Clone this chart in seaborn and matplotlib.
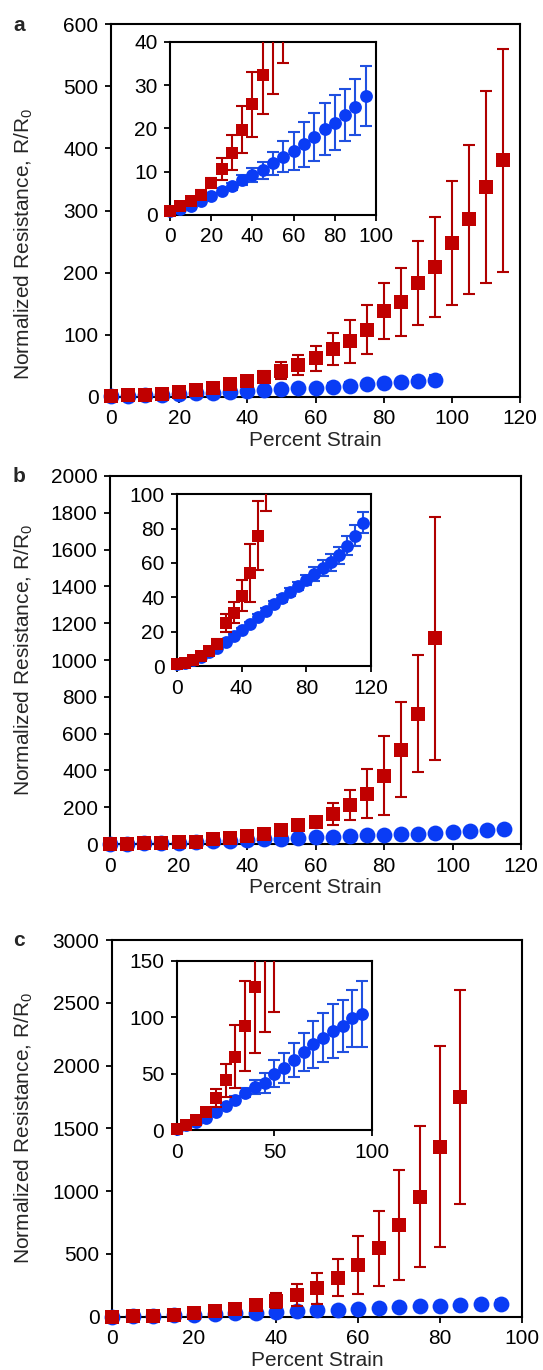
import matplotlib
matplotlib.use('Agg')
import pandas as pd
import matplotlib.pyplot as plt
import seaborn as sns
from matplotlib.patches import Rectangle

sns.set_style('ticks')
plt.rcParams['font.family'] = ['Liberation Sans', 'DejaVu Sans']
plt.rcParams['mathtext.fontset'] = 'custom'
plt.rcParams['mathtext.rm'] = 'Liberation Sans'
plt.rcParams['font.size'] = 15

RED = '#C00000'
BLUE = '#0A3CF5'
BLUE_ERR = '#2050E0'
FS = 15

# ---- panel a ----
strain_red_a = [0, 5, 10, 15, 20, 25, 30, 35, 40, 45, 50, 55, 60, 65, 70, 75, 80, 85, 90, 95, 100, 105, 110, 115]
red_a = [1, 2, 3.2, 4.7, 7.4, 10.6, 14.4, 19.7, 25.6, 32.2, 42, 51, 62, 77, 89, 108, 138, 153, 183, 209, 248, 286, 338, 381]
red_a_err = [0.3, 0.5, 0.7, 1.0, 1.2, 2.5, 4.0, 5.5, 7.5, 9, 14, 16, 20, 26, 34, 39, 45, 55, 68, 81, 100, 120, 155, 180]
strain_blue_a = [0, 5, 10, 15, 20, 25, 30, 35, 40, 45, 50, 55, 60, 65, 70, 75, 80, 85, 90, 95]
blue_a = [1, 1.3, 2.1, 3.2, 4.5, 5.6, 6.6, 8.1, 9.3, 10.3, 11.9, 13.5, 14.8, 16.3, 18.0, 19.8, 21.3, 23.1, 24.9, 27.5]
blue_a_err = [0.1, 0.2, 0.3, 0.4, 0.5, 0.6, 0.8, 1.1, 1.6, 2.0, 2.7, 3.6, 4.3, 5.2, 5.6, 6.0, 6.3, 6.0, 6.4, 7.0]

# ---- panel b ----
strain_red_b = [0, 5, 10, 15, 20, 25, 30, 35, 40, 45, 50, 55, 60, 65, 70, 75, 80, 85, 90, 95]
red_b = [1, 2, 3.5, 6, 9, 13, 25, 31, 41, 54, 76, 104, 122, 163, 213, 273, 371, 513, 709, 1118]
red_b_err = [0.5, 0.5, 1, 1.5, 2, 3, 5, 6, 9, 17, 20, 14, 15, 60, 80, 133, 216, 260, 320, 660]
strain_blue_b = [0, 5, 10, 15, 20, 25, 30, 35, 40, 45, 50, 55, 60, 65, 70, 75, 80, 85, 90, 95, 100, 105, 110, 115]
blue_b = [1, 2, 3.5, 5.5, 8, 10.5, 14, 17.5, 21, 24.5, 28.5, 32, 36, 39.5, 43, 46.5, 50, 53.5, 57, 60.5, 64.5, 70, 76, 83.5]
blue_b_err = [0.2, 0.3, 0.4, 0.5, 0.6, 0.8, 1, 1, 1.2, 1.3, 1.5, 1.6, 1.8, 2, 2.2, 2.5, 3, 4, 4.5, 5, 5, 5.5, 6, 6]

# ---- panel c ----
strain_red_c = [0, 5, 10, 15, 20, 25, 30, 35, 40, 45, 50, 55, 60, 65, 70, 75, 80, 85]
red_c = [1, 4, 9, 16, 28, 44, 65, 92, 127, 172, 225, 311, 412, 545, 731, 957, 1354, 1750]
red_c_err = [0.3, 1, 2, 3, 8, 15, 28, 40, 59, 85, 120, 150, 230, 300, 440, 560, 800, 850]
strain_blue_c = [0, 5, 10, 15, 20, 25, 30, 35, 40, 45, 50, 55, 60, 65, 70, 75, 80, 85, 90, 95]
blue_c = [1, 4, 7, 11, 16, 21, 27, 33, 38, 42, 50, 55, 62, 69, 76, 82, 88, 92, 99, 103]
blue_c_err = [0.2, 0.4, 0.6, 1, 1.5, 2, 3, 4, 6, 9, 12, 13, 15, 17, 21, 22, 24, 23, 25, 29]

panels = [
    dict(letter='a', xs_r=strain_red_a, r=red_a, re=red_a_err, xs_b=strain_blue_a, b=blue_a, be=blue_a_err,
         xlim=120, xstep=20, ylim=600, ystep=100, ixlim=100, ixstep=20, iylim=40, iystep=10,
         main=(111, 520, 24.3, 396.7), inset=(170, 376, 41.7, 215), ylab_y=0.41),
    dict(letter='b', xs_r=strain_red_b, r=red_b, re=red_b_err, xs_b=strain_blue_b, b=blue_b, be=blue_b_err,
         xlim=120, xstep=20, ylim=2000, ystep=200, ixlim=120, ixstep=40, iylim=100, iystep=20,
         main=(110, 521, 476, 844), inset=(177, 371, 494.3, 666), ylab_y=0.5),
    dict(letter='c', xs_r=strain_red_c, r=red_c, re=red_c_err, xs_b=strain_blue_c, b=blue_c, be=blue_c_err,
         xlim=100, xstep=20, ylim=3000, ystep=500, ixlim=100, ixstep=50, iylim=150, iystep=50,
         main=(112, 522, 940, 1316.7), inset=(176.7, 372, 961, 1130), ylab_y=0.5),
]

W, H = 543, 1370
fig = plt.figure(figsize=(W / 100, H / 100), dpi=100)


def to_rect(box):
    l, r, t, b = box
    return [l / W, 1 - b / H, (r - l) / W, (b - t) / H]


def style_axes(ax):
    for sp in ax.spines.values():
        sp.set_visible(True)
        sp.set_linewidth(1.5)
        sp.set_color('black')
    ax.tick_params(direction='out', length=4, width=1.3, pad=5, labelsize=FS, colors='black')
    ax.set_facecolor('white')


def draw(ax, p, ms_sq, ms_ci, clip):
    red_df = pd.DataFrame({'strain': p['xs_r'], 'R': p['r'], 'err': p['re']})
    blue_df = pd.DataFrame({'strain': p['xs_b'], 'R': p['b'], 'err': p['be']})
    artists = []
    eb = ax.errorbar(blue_df['strain'], blue_df['R'], yerr=blue_df['err'], fmt='none',
                     ecolor=BLUE_ERR, elinewidth=1.5, capsize=4, capthick=1.5, zorder=2)
    artists += list(eb.lines[1]) + list(eb.lines[2])
    sns.scatterplot(data=blue_df, x='strain', y='R', ax=ax, marker='o', s=ms_ci,
                    color=BLUE, linewidth=0, zorder=3, legend=False)
    eb = ax.errorbar(red_df['strain'], red_df['R'], yerr=red_df['err'], fmt='none',
                     ecolor='#B00000', elinewidth=1.5, capsize=4, capthick=1.5, zorder=4)
    artists += list(eb.lines[1]) + list(eb.lines[2])
    sns.scatterplot(data=red_df, x='strain', y='R', ax=ax, marker='s', s=ms_sq,
                    color=RED, linewidth=0, zorder=5, legend=False)
    artists += list(ax.collections)
    for a in artists:
        if clip:
            a.set_clip_path(Rectangle((-0.1, -0.1), 1.2, 1.1, transform=ax.transAxes))
        else:
            a.set_clip_on(False)


for p in panels:
    ax = fig.add_axes(to_rect(p['main']))
    style_axes(ax)
    draw(ax, p, ms_sq=115, ms_ci=130, clip=False)
    ax.set_xlim(0, p['xlim'])
    ax.set_ylim(0, p['ylim'])
    ax.set_xticks(range(0, p['xlim'] + 1, p['xstep']))
    ax.set_yticks(range(0, p['ylim'] + 1, p['ystep']))
    ax.set_xlabel('Percent Strain', fontsize=FS, labelpad=2)
    ax.set_ylabel('Normalized Resistance, R/R$_\\mathregular{0}$', fontsize=15)
    l, r, t, b = p['main']
    ax.yaxis.set_label_coords((35 - l) / (r - l), p['ylab_y'])
    ax.text((19 - l) / (r - l), (b - t - 1) / (b - t), p['letter'], transform=ax.transAxes,
            fontsize=FS, fontweight='bold', ha='center', va='center')

    ins = fig.add_axes(to_rect(p['inset']))
    style_axes(ins)
    draw(ins, p, ms_sq=75, ms_ci=85, clip=True)
    ins.set_xlim(0, p['ixlim'])
    ins.set_ylim(0, p['iylim'])
    ins.set_xticks(range(0, p['ixlim'] + 1, p['ixstep']))
    ins.set_yticks(range(0, p['iylim'] + 1, p['iystep']))
    ins.set_xlabel('')
    ins.set_ylabel('')

fig.savefig('out.png', dpi=100, facecolor='white')
